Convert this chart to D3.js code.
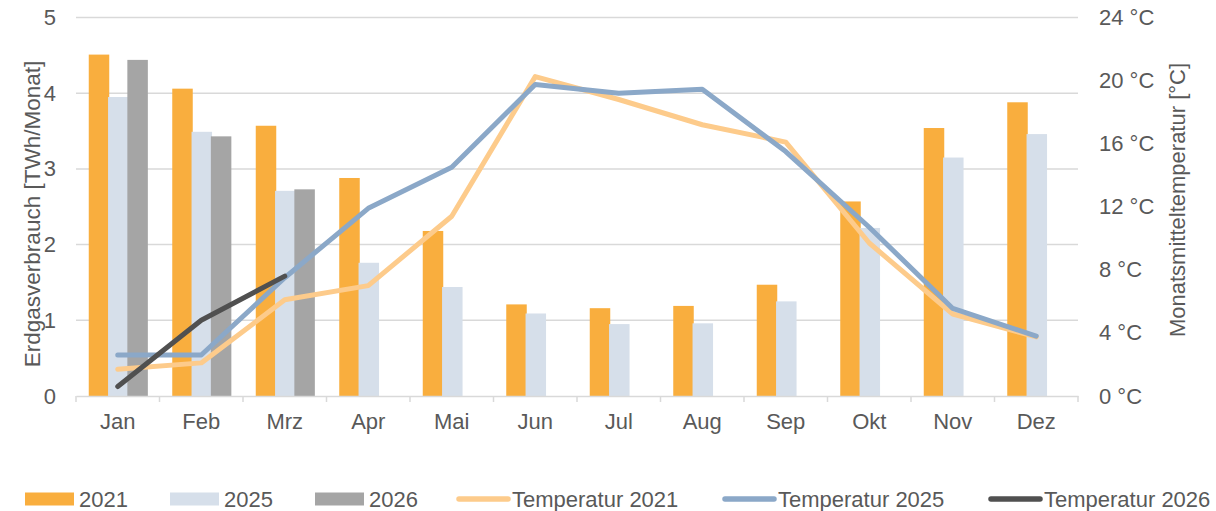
<!DOCTYPE html>
<html>
<head>
<meta charset="utf-8">
<script src="https://cdn.jsdelivr.net/npm/d3@7"></script>
<style>
  body { margin: 0; background: #fff; }
  svg text { font-family: "Liberation Sans", Arial, sans-serif; fill: #595959; }
</style>
</head>
<body>
<svg width="1216" height="511"></svg>
<script>
var months = ["Jan", "Feb", "Mrz", "Apr", "Mai", "Jun", "Jul", "Aug", "Sep", "Okt", "Nov", "Dez"];

// Erdgasverbrauch TWh/Monat
var gas2021 = [4.51, 4.06, 3.57, 2.88, 2.18, 1.21, 1.16, 1.19, 1.47, 2.57, 3.54, 3.88];
var gas2025 = [3.95, 3.49, 2.71, 1.76, 1.44, 1.09, 0.95, 0.96, 1.25, 2.22, 3.15, 3.46];
var gas2026 = [4.44, 3.43, 2.73];

// Monatsmitteltemperatur °C
var temp2021 = [1.7, 2.1, 6.1, 7.0, 11.4, 20.25, 18.8, 17.2, 16.1, 9.7, 5.2, 3.75];
var temp2025 = [2.6, 2.6, 7.5, 11.9, 14.5, 19.75, 19.2, 19.45, 15.5, 10.7, 5.55, 3.8];
var temp2026 = [0.6, 4.8, 7.6];

var leftTicks = [0, 1, 2, 3, 4, 5];
var rightTicks = [0, 4, 8, 12, 16, 20, 24];

var svg = d3.select("svg"),
    margin = {top: 17.5, right: 138, bottom: 115, left: 76},
    width = 1216 - margin.left - margin.right,
    height = 511 - margin.top - margin.bottom,
    g = svg.append("g").attr("transform", "translate(" + margin.left + "," + margin.top + ")");

var x = d3.scaleBand().domain(months).range([0, width]);
var y = d3.scaleLinear().domain([0, 5]).range([height, 0]);
var yT = d3.scaleLinear().domain([0, 24]).range([height, 0]);

// gridlines
g.selectAll(".grid")
  .data(leftTicks.slice(1))
  .enter().append("line")
    .attr("x1", 0).attr("x2", width)
    .attr("y1", d => y(d)).attr("y2", d => y(d))
    .attr("stroke", "#d9d9d9").attr("stroke-width", 1.5);

// bars
var barW = 20.5, step = 19.3;
var groupOff = x.bandwidth() / 2 - 29;
var barSeries = [
  {values: gas2021, color: "#f9ae3e", i: 0},
  {values: gas2025, color: "#d6dfea", i: 1},
  {values: gas2026, color: "#a5a5a5", i: 2}
];
barSeries.forEach(function(s) {
  g.selectAll(".bar" + s.i)
    .data(s.values)
    .enter().append("rect")
      .attr("x", (d, j) => x(months[j]) + groupOff + s.i * step)
      .attr("y", d => y(d))
      .attr("width", barW)
      .attr("height", d => height - y(d))
      .attr("fill", s.color);
});

// x axis
var xAxis = g.append("g")
  .attr("transform", "translate(0," + height + ")")
  .call(d3.axisBottom(x).tickSize(0).tickPadding(17));
xAxis.select(".domain").attr("stroke", "#d9d9d9").attr("stroke-width", 1.5);
xAxis.selectAll("text").style("font-size", "22px").attr("fill", "#595959");
g.selectAll(".xtick")
  .data(d3.range(13))
  .enter().append("line")
    .attr("x1", d => d * x.step()).attr("x2", d => d * x.step())
    .attr("y1", height).attr("y2", height + 6)
    .attr("stroke", "#d9d9d9").attr("stroke-width", 1.5);

// left axis
var yAxis = g.append("g")
  .call(d3.axisLeft(y).tickValues(leftTicks).tickSize(0).tickPadding(20).tickFormat(d3.format("d")));
yAxis.select(".domain").remove();
yAxis.selectAll("text").style("font-size", "22px").attr("fill", "#595959");

// right axis
var yAxisR = g.append("g")
  .attr("transform", "translate(" + width + ",0)")
  .call(d3.axisRight(yT).tickValues(rightTicks).tickSize(0).tickPadding(21)
    .tickFormat(d => d + " °C"));
yAxisR.select(".domain").remove();
yAxisR.selectAll("text").style("font-size", "22px").attr("fill", "#595959");

// axis titles
svg.append("text")
  .attr("transform", "translate(40,214) rotate(-90)")
  .attr("text-anchor", "middle")
  .style("font-size", "22.5px")
  .text("Erdgasverbrauch [TWh/Monat]");
svg.append("text")
  .attr("transform", "translate(1185,200) rotate(-90)")
  .attr("text-anchor", "middle")
  .style("font-size", "22px")
  .text("Monatsmitteltemperatur [°C]");

// temperature lines
var line = d3.line()
  .x((d, j) => x(months[j]) + x.bandwidth() / 2)
  .y(d => yT(d));
var lineSeries = [
  {values: temp2021, color: "#fdcb8b"},
  {values: temp2025, color: "#8ba8c8"},
  {values: temp2026, color: "#505050"}
];
lineSeries.forEach(function(s) {
  g.append("path")
    .attr("d", line(s.values))
    .attr("fill", "none")
    .attr("stroke", s.color)
    .attr("stroke-width", 5)
    .attr("stroke-linejoin", "round")
    .attr("stroke-linecap", "round");
});

// legend
var legend = [
  {label: "2021", color: "#f9ae3e", type: "rect", x: 25},
  {label: "2025", color: "#d6dfea", type: "rect", x: 170},
  {label: "2026", color: "#a5a5a5", type: "rect", x: 315},
  {label: "Temperatur 2021", color: "#fdcb8b", type: "line", x: 457},
  {label: "Temperatur 2025", color: "#8ba8c8", type: "line", x: 723},
  {label: "Temperatur 2026", color: "#505050", type: "line", x: 989}
];
var ly = 499;
var lg = svg.selectAll(".legend")
  .data(legend)
  .enter().append("g")
    .attr("transform", d => "translate(" + d.x + "," + ly + ")");
lg.filter(d => d.type == "rect").append("rect")
  .attr("x", 0).attr("y", -6.5).attr("width", 49).attr("height", 13)
  .attr("fill", d => d.color);
lg.filter(d => d.type == "line").append("line")
  .attr("x1", 2).attr("x2", 51).attr("y1", 0).attr("y2", 0)
  .attr("stroke", d => d.color).attr("stroke-width", 5.5)
  .attr("stroke-linecap", "round");
lg.append("text")
  .attr("x", d => d.type == "rect" ? 54 : 55).attr("y", 0).attr("dy", "0.35em")
  .style("font-size", "22px")
  .text(d => d.label);
</script>
</body>
</html>
